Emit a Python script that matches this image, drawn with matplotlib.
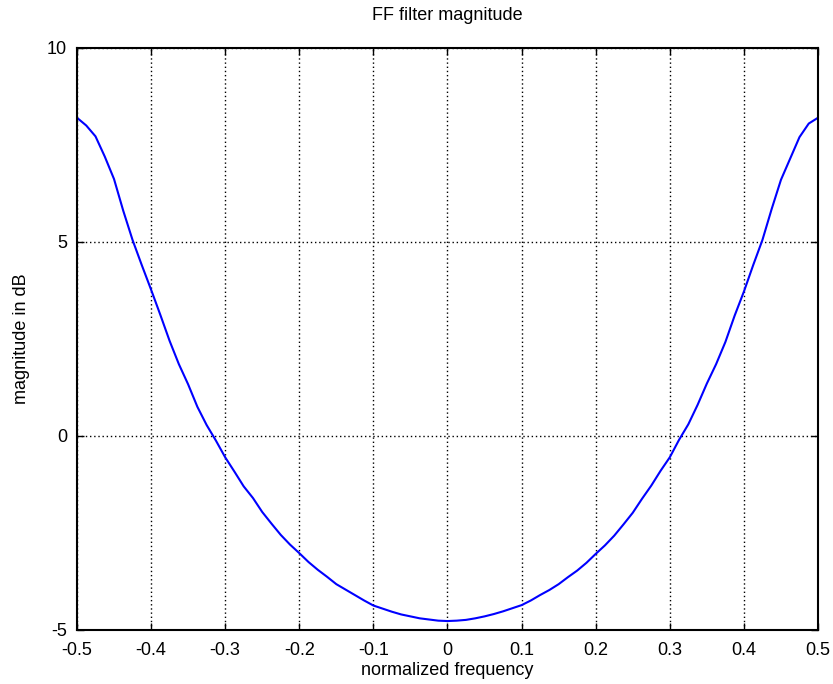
import matplotlib
matplotlib.use('Agg')
import matplotlib.pyplot as plt

# normalized frequency and magnitude (dB)
freq = [-0.5, -0.4875, -0.475, -0.4625, -0.45, -0.4375, -0.425, -0.4125, -0.4, -0.3875,
        -0.375, -0.3625, -0.35, -0.3375, -0.325, -0.3125, -0.3, -0.2875, -0.275, -0.2625,
        -0.25, -0.2375, -0.225, -0.2125, -0.2, -0.1875, -0.175, -0.1625, -0.15, -0.1375,
        -0.125, -0.1125, -0.1, -0.0875, -0.075, -0.0625, -0.05, -0.0375, -0.025, -0.0125,
        0.0,
        0.0125, 0.025, 0.0375, 0.05, 0.0625, 0.075, 0.0875, 0.1, 0.1125, 0.125,
        0.1375, 0.15, 0.1625, 0.175, 0.1875, 0.2, 0.2125, 0.225, 0.2375, 0.25,
        0.2625, 0.275, 0.2875, 0.3, 0.3125, 0.325, 0.3375, 0.35, 0.3625, 0.375,
        0.3875, 0.4, 0.4125, 0.425, 0.4375, 0.45, 0.4625, 0.475, 0.4875, 0.5]
mag_db = [8.2, 8.0, 7.72, 7.2, 6.62, 5.8, 5.05, 4.4, 3.77, 3.12,
          2.45, 1.85, 1.33, 0.75, 0.28, -0.12, -0.55, -0.92, -1.3, -1.6,
          -1.96, -2.26, -2.55, -2.8, -3.02, -3.25, -3.45, -3.63, -3.82, -3.96,
          -4.1, -4.24, -4.37, -4.45, -4.53, -4.6, -4.65, -4.7, -4.73, -4.76,
          -4.77,
          -4.76, -4.74, -4.7, -4.65, -4.59, -4.52, -4.44, -4.36, -4.24, -4.1,
          -3.97, -3.82, -3.64, -3.47, -3.27, -3.04, -2.82, -2.57, -2.28, -1.98,
          -1.62, -1.28, -0.9, -0.55, -0.1, 0.3, 0.8, 1.35, 1.85, 2.42,
          3.1, 3.72, 4.4, 5.05, 5.85, 6.6, 7.15, 7.7, 8.05, 8.2]

x_ticks = [-0.5, -0.4, -0.3, -0.2, -0.1, 0, 0.1, 0.2, 0.3, 0.4, 0.5]
x_tick_labels = ['-0.5', '-0.4', '-0.3', '-0.2', '-0.1', '0', '0.1', '0.2', '0.3', '0.4', '0.5']
y_ticks = [-5, 0, 5, 10]
y_tick_labels = ['-5', '0', '5', '10']

plt.rcParams['font.family'] = ['Liberation Sans', 'DejaVu Sans']
plt.rcParams['axes.unicode_minus'] = False

fig = plt.figure(figsize=(8.33, 6.84), dpi=100)
ax = fig.add_axes([0.0924, 0.079, 0.8896, 0.851])

ax.plot(freq, mag_db, color='#0000ff', linewidth=1.5)

ax.set_xlim(-0.5, 0.5)
ax.set_ylim(-5, 10)
ax.set_xticks(x_ticks, x_tick_labels)
ax.set_yticks(y_ticks, y_tick_labels)
ax.tick_params(direction='in', length=5, width=1, top=True, right=True, labelsize=13)
ax.tick_params(axis='x', pad=9)
ax.tick_params(axis='y', pad=7)
ax.grid(True, color='black', linestyle=(0, (1, 2)), linewidth=1)
for sp in ax.spines.values():
    sp.set_linewidth(1.5)

ax.set_title('FF filter magnitude', fontsize=13, pad=20)
ax.set_xlabel('normalized frequency', fontsize=13, labelpad=2)
ax.set_ylabel('magnitude in dB', fontsize=13, labelpad=12)

fig.savefig('out.png', dpi=100)
